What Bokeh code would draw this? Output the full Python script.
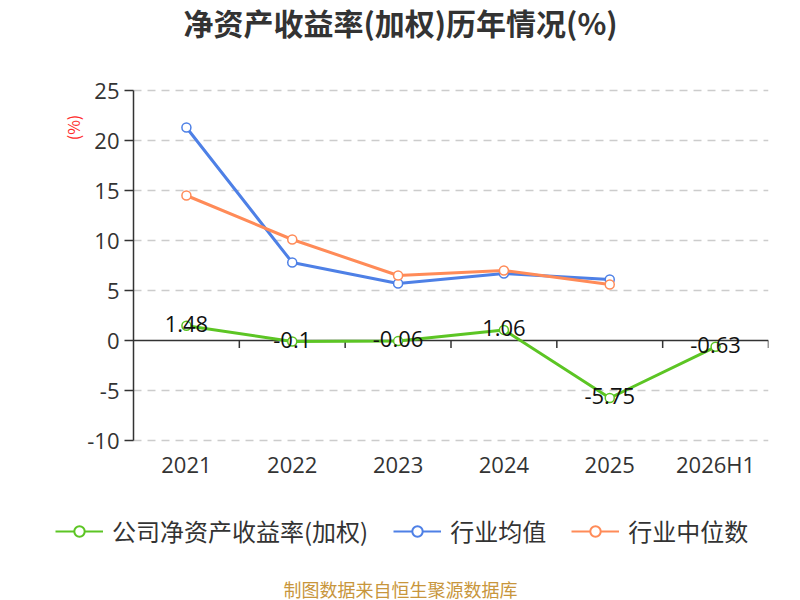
from bokeh.plotting import figure
from bokeh.layouts import column
from bokeh.models import (Range1d, FixedTicker, Label, Legend, LegendItem, ColumnDataSource)
from bokeh.core.properties import value
from bokeh.embed import file_html
from bokeh.resources import INLINE
import math

categories = ["2021", "2022", "2023", "2024", "2025", "2026H1"]
company = [1.48, -0.1, -0.06, 1.06, -5.75, -0.63]
industry_avg = [21.3, 7.8, 5.7, 6.7, 6.1]
industry_median = [14.5, 10.1, 6.5, 7.0, 5.6]
y_ticks = [-10, -5, 0, 5, 10, 15, 20, 25]
series_names = ["公司净资产收益率(加权)", "行业均值", "行业中位数"]
title_text = "净资产收益率(加权)历年情况(%)"
source_text = "制图数据来自恒生聚源数据库"
unit_text = "(%)"

GREEN = "#5cc524"
BLUE = "#4e80e6"
ORANGE = "#ff8b58"
NUM_FONT = "Open Sans"
CJK_FONT = "Noto Sans CJK SC"

W = 800
TOP_H, MAIN_H, BOT_H = 60, 440, 100
FL, FR = 55, 32           # frame borders shared by all three strips
AXIS_PX = 133             # page x of the value axis
PAD = 1.5                 # extra value room so end tick labels are not clipped
PAD_PX = 15
ncat = len(categories)
px_per_cat = (W - FR - AXIS_PX) / ncat


def blank_fig(h):
    # frame spans the same columns as the main chart; x data = page pixel
    f = figure(width=W, height=h, output_backend="svg", toolbar_location=None,
               x_range=Range1d(FL, W - FR), y_range=Range1d(0, h),
               min_border_left=FL, min_border_right=FR,
               min_border_top=0, min_border_bottom=0)
    f.axis.visible = False
    f.grid.visible = False
    f.outline_line_color = None
    return f


# ---------- title strip ----------
pt = blank_fig(TOP_H)
pt.add_layout(Label(x=W / 2, y=TOP_H - 21, text=title_text, text_align="center",
                    text_baseline="middle", text_font=CJK_FONT, text_font_size="30px",
                    text_font_style="bold", text_color="#333333"))

# ---------- main chart ----------
xpos = [i + 0.5 for i in range(ncat)]            # category centres
bounds = [float(i) for i in range(1, ncat + 1)]  # category boundaries
x_start = -(AXIS_PX - FL) / px_per_cat
ymin, ymax = y_ticks[0], y_ticks[-1]

p = figure(width=W, height=MAIN_H, output_backend="svg", toolbar_location=None,
           x_range=Range1d(x_start, ncat), y_range=Range1d(ymin - PAD, ymax + PAD),
           min_border_left=FL, min_border_right=FR, min_border_top=30 - PAD_PX,
           min_border_bottom=60 - PAD_PX)
p.outline_line_color = None

p.yaxis.fixed_location = 0
p.yaxis.bounds = (ymin, ymax)
p.yaxis.ticker = FixedTicker(ticks=y_ticks)
p.yaxis.major_label_overrides = {t: str(t) for t in y_ticks}
p.yaxis.axis_line_color = None
p.yaxis.major_tick_line_color = "#333333"
p.yaxis.major_tick_line_width = 1.5
p.yaxis.major_tick_out = 9
p.yaxis.major_tick_in = 0
p.yaxis.minor_tick_line_color = None
p.yaxis.major_label_standoff = 5
p.yaxis.major_label_text_font = NUM_FONT
p.yaxis.major_label_text_font_size = "22px"
p.yaxis.major_label_text_color = "#333333"

p.xaxis.ticker = FixedTicker(ticks=xpos)
p.xaxis.major_label_overrides = {x: c for x, c in zip(xpos, categories)}
p.xaxis.axis_line_color = None
p.xaxis.major_tick_line_color = None
p.xaxis.minor_tick_line_color = None
p.xaxis.major_label_standoff = 2 - PAD_PX
p.xaxis.major_label_text_font = NUM_FONT
p.xaxis.major_label_text_font_size = "22px"
p.xaxis.major_label_text_color = "#333333"

p.grid.visible = False
# dashed value grid, only over the category area
grid_y = [t for t in y_ticks if t != 0]
p.segment(x0=[0.0] * len(grid_y), y0=grid_y, x1=[float(ncat)] * len(grid_y), y1=grid_y,
          line_color="#cccccc", line_width=1.5, line_dash="8 6")
# value axis line
p.segment(x0=[0.0], y0=[float(ymin)], x1=[0.0], y1=[float(ymax)],
          line_color="#333333", line_width=1.5)
# zero axis line with category boundary ticks
p.segment(x0=[0.0], y0=[0.0], x1=[float(ncat)], y1=[0.0], line_color="#333333", line_width=1.5)
p.segment(x0=bounds, y0=[0.0] * ncat, x1=bounds, y1=[-0.75] * ncat,
          line_color="#333333", line_width=1.5)

n_ind = len(industry_avg)
avg_src = ColumnDataSource(dict(x=xpos[:n_ind], y=industry_avg))
med_src = ColumnDataSource(dict(x=xpos[:n_ind], y=industry_median))
com_src = ColumnDataSource(dict(x=xpos, y=company, t=[str(v) for v in company]))

p.line("x", "y", source=avg_src, line_color=BLUE, line_width=3)
p.scatter("x", "y", source=avg_src, size=9, fill_color="white", line_color=BLUE, line_width=1.5)
p.line("x", "y", source=med_src, line_color=ORANGE, line_width=3)
p.scatter("x", "y", source=med_src, size=9, fill_color="white", line_color=ORANGE, line_width=1.5)
p.line("x", "y", source=com_src, line_color=GREEN, line_width=3)
p.scatter("x", "y", source=com_src, size=9, fill_color="white", line_color=GREEN, line_width=1.5)
p.text("x", "y", text="t", source=com_src, text_align="center", text_baseline="middle",
       y_offset=-2, text_font=value(NUM_FONT), text_font_size="22px", text_color="#111111")

p.add_layout(Label(x=(72 - AXIS_PX) / px_per_cat, y=21.3, text=unit_text, angle=math.pi / 2,
                   text_align="center", text_baseline="middle", text_font=CJK_FONT,
                   text_font_size="16px", text_color="#ff2b2b"))

# ---------- legend + source strip ----------
pb = blank_fig(BOT_H)
items = []
for name, col, src in zip(series_names, [GREEN, BLUE, ORANGE], [com_src, avg_src, med_src]):
    # legend swatches only (hidden copies of each series, drawn in the legend)
    leg_src = ColumnDataSource(dict(x=list(src.data["x"]), y=list(src.data["y"])))
    lr = pb.line("x", "y", source=leg_src, line_color=col, line_width=2, visible=False)
    sr = pb.scatter("x", "y", source=leg_src, size=20, fill_color="white",
                    line_color=col, line_width=2, visible=False)
    items.append(LegendItem(label=name, renderers=[lr, sr]))

legend = Legend(items=items, orientation="horizontal", location=(0, 52),
                glyph_width=48, glyph_height=26, label_standoff=9, spacing=25,
                label_text_font=CJK_FONT, label_text_font_size="24px",
                label_text_color="#333333", border_line_color=None,
                background_fill_alpha=0, inactive_fill_alpha=0, padding=0, margin=0)
pb.add_layout(legend)
pb.add_layout(Label(x=W / 2, y=BOT_H - 88, text=source_text, text_align="center",
                    text_baseline="middle", text_font=CJK_FONT, text_font_size="18px",
                    text_color="#c8963c"))

layout = column(pt, p, pb, spacing=0)
open("out.html", "w").write(file_html(layout, INLINE))
